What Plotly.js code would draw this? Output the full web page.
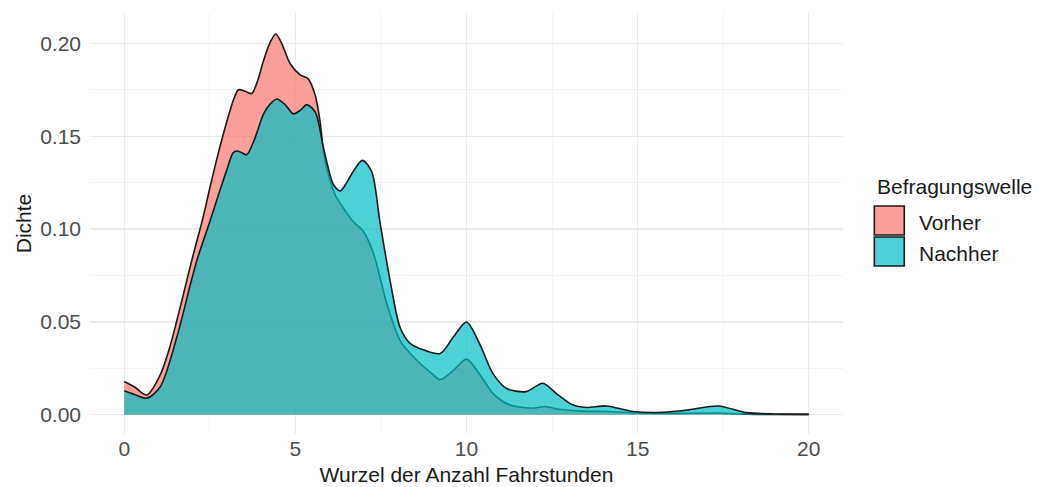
<!DOCTYPE html>
<html>
<head>
<meta charset="utf-8">
<script src="https://cdn.plot.ly/plotly-3.0.1.min.js"></script>
<style>html,body{margin:0;padding:0;background:#fff;}#chart{width:1039px;height:487px;}</style>
</head>
<body>
<div id="chart"></div>
<script>
// Series names / legend
const seriesNames = ["Vorher", "Nachher"];
const legendTitle = "Befragungswelle";

// Vorher density
const vorherX = [0, 0.3, 0.66, 1.05, 1.34, 1.54, 1.73, 1.93, 2.07, 2.3, 2.5, 2.75, 3.0, 3.2, 3.34, 3.55, 3.73, 3.9, 4.06, 4.25, 4.43, 4.6, 4.85, 5.14, 5.37, 5.58, 5.72, 5.85, 6.05, 6.2, 6.45, 6.69, 6.98, 7.28, 7.67, 8.06, 8.54, 9.0, 9.23, 9.62, 10.0, 10.38, 10.77, 11.26, 11.94, 12.29, 12.7, 13.4, 14.1, 15.0, 16.0, 17.3, 18.2, 19.0, 20.0];
const vorherY = [0.018, 0.015, 0.0107, 0.0215, 0.037, 0.051, 0.065, 0.080, 0.090, 0.106, 0.122, 0.141, 0.158, 0.170, 0.175, 0.174, 0.173, 0.180, 0.190, 0.200, 0.205, 0.200, 0.189, 0.183, 0.181, 0.172, 0.158, 0.138, 0.124, 0.117, 0.110, 0.104, 0.099, 0.087, 0.060, 0.040, 0.0295, 0.022, 0.019, 0.024, 0.030, 0.022, 0.0116, 0.0054, 0.0036, 0.0045, 0.003, 0.002, 0.0018, 0.001, 0.0008, 0.001, 0.0004, 0.0002, 0.0001];

// Nachher density
const nachherX = [0, 0.3, 0.66, 1.05, 1.54, 1.93, 2.12, 2.5, 2.8, 3.0, 3.18, 3.29, 3.45, 3.58, 3.8, 4.07, 4.25, 4.46, 4.7, 4.94, 5.15, 5.33, 5.58, 5.82, 6.11, 6.31, 6.5, 6.69, 6.96, 7.23, 7.47, 7.77, 8.06, 8.35, 8.74, 9.23, 9.62, 10.0, 10.38, 10.77, 11.16, 11.74, 12.23, 12.62, 13.1, 13.5, 14.09, 14.87, 15.75, 16.5, 17.35, 18.17, 19.0, 20.0];
const nachherY = [0.013, 0.011, 0.009, 0.015, 0.042, 0.070, 0.083, 0.104, 0.121, 0.132, 0.141, 0.142, 0.141, 0.140, 0.148, 0.162, 0.167, 0.170, 0.167, 0.162, 0.164, 0.167, 0.163, 0.144, 0.124, 0.1205, 0.125, 0.131, 0.137, 0.131, 0.104, 0.072, 0.047, 0.0385, 0.035, 0.033, 0.042, 0.050, 0.0384, 0.0223, 0.0143, 0.0125, 0.017, 0.0116, 0.0054, 0.004, 0.0048, 0.0018, 0.0014, 0.0027, 0.0048, 0.0012, 0.0005, 0.0004];

const xTicks = [0, 5, 10, 15, 20];
const yTicks = [0, 0.05, 0.10, 0.15, 0.20];
const yTickText = ["0.00", "0.05", "0.10", "0.15", "0.20"];

const font = "Liberation Sans, Arial, sans-serif";
const fills = ["rgba(248,118,109,0.7)", "rgba(0,191,196,0.7)"];

const traces = [
  {
    x: vorherX, y: vorherY, name: seriesNames[0], type: "scatter", mode: "lines",
    fill: "tozeroy", fillcolor: fills[0], showlegend: false,
    line: {color: "#1a1a1a", width: 1.6, shape: "spline", smoothing: 0.8}
  },
  {
    x: nachherX, y: nachherY, name: seriesNames[1], type: "scatter", mode: "lines",
    fill: "tozeroy", fillcolor: fills[1], showlegend: false,
    line: {color: "#1a1a1a", width: 1.6, shape: "spline", smoothing: 0.8}
  }
];

// legend drawn as paper-anchored swatches + text (ggplot style boxes)
const legX0 = 1.0416, legX1 = 1.0814;
const shapes = [
  {type: "rect", xref: "paper", yref: "paper", x0: legX0, x1: legX1, y0: 0.4727, y1: 0.5416,
   fillcolor: fills[0], line: {color: "#1a1a1a", width: 1.6}},
  {type: "rect", xref: "paper", yref: "paper", x0: legX0, x1: legX1, y0: 0.3990, y1: 0.4679,
   fillcolor: fills[1], line: {color: "#1a1a1a", width: 1.6}}
];
const annotations = [
  {text: legendTitle, xref: "paper", yref: "paper", x: 1.0425, y: 0.5867, xanchor: "left", yanchor: "middle",
   showarrow: false, font: {family: font, size: 21, color: "#1a1a1a"}},
  {text: seriesNames[0], xref: "paper", yref: "paper", x: 1.0983, y: 0.5035, xanchor: "left", yanchor: "middle",
   showarrow: false, font: {family: font, size: 21, color: "#1a1a1a"}},
  {text: seriesNames[1], xref: "paper", yref: "paper", x: 1.0983, y: 0.4290, xanchor: "left", yanchor: "middle",
   showarrow: false, font: {family: font, size: 21, color: "#1a1a1a"}}
];

const layout = {
  width: 1039, height: 487,
  margin: {l: 90, r: 196, t: 13, b: 53},
  paper_bgcolor: "#ffffff", plot_bgcolor: "#ffffff",
  font: {family: font, size: 21, color: "#1a1a1a"},
  xaxis: {
    range: [-1, 21], tickvals: xTicks, ticktext: xTicks.map(String),
    showgrid: true, gridcolor: "#ebebeb", gridwidth: 1.2,
    minor: {dtick: 2.5, tick0: 0, showgrid: true, gridcolor: "#f4f4f4", gridwidth: 1},
    zeroline: false, showline: false, ticks: "",
    tickfont: {family: font, size: 21, color: "#4d4d4d"},
    title: {text: "Wurzel der Anzahl Fahrstunden", font: {family: font, size: 21, color: "#1a1a1a"}, standoff: 8},
    automargin: false, fixedrange: true
  },
  yaxis: {
    range: [-0.0103, 0.2163], tickvals: yTicks, ticktext: yTickText,
    showgrid: true, gridcolor: "#ebebeb", gridwidth: 1.2,
    minor: {dtick: 0.025, tick0: 0, showgrid: true, gridcolor: "#f4f4f4", gridwidth: 1},
    zeroline: false, showline: false, ticks: "",
    ticklabelstandoff: 8,
    tickfont: {family: font, size: 21, color: "#4d4d4d"},
    title: {text: "Dichte", font: {family: font, size: 21, color: "#1a1a1a"}, standoff: 2},
    automargin: false, fixedrange: true
  },
  shapes: shapes,
  annotations: annotations,
  showlegend: false
};

Plotly.newPlot("chart", traces, layout, {displayModeBar: false, staticPlot: true});
</script>
</body>
</html>
